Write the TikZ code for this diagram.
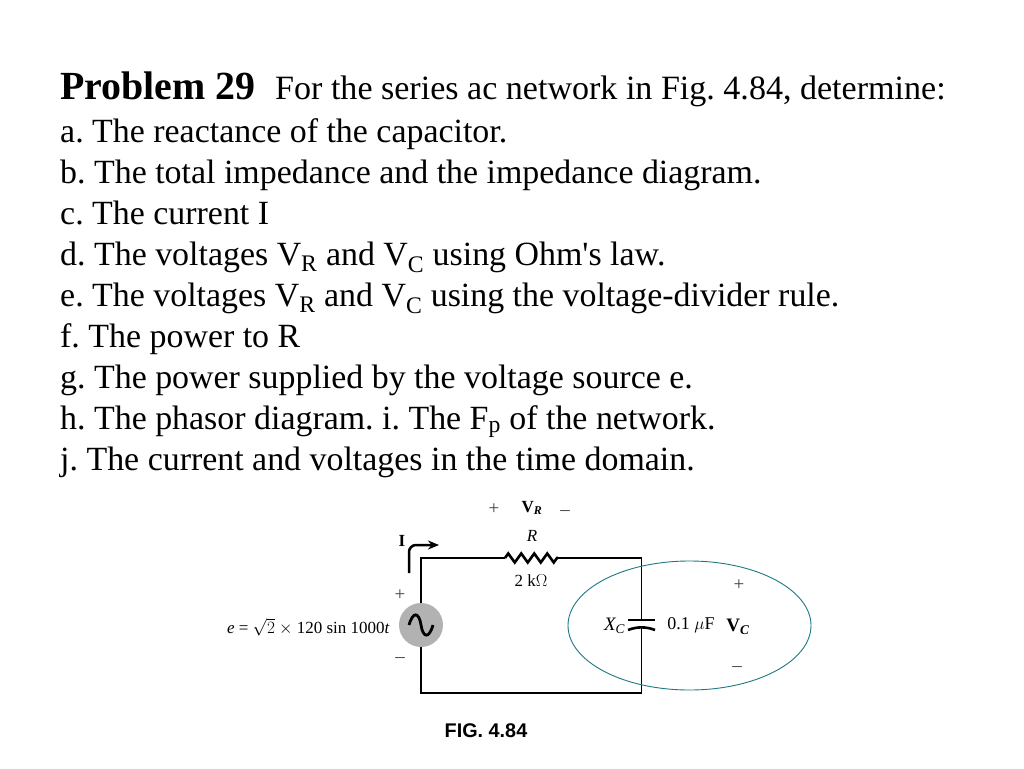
\documentclass[tikz,border=0pt]{standalone}
\usepackage{fontspec}
\setmainfont{Liberation Serif}
\newfontfamily\plainfont{Liberation Serif}
\usetikzlibrary{positioning,arrows.meta,decorations.pathmorphing,shapes.geometric}
\definecolor{ellipseblue}{RGB}{30,120,130}
\tikzset{
  textline/.style={anchor=base west,inner sep=0pt,font=\fontsize{33.9pt}{33.9pt}\selectfont\frenchspacing},
  wire/.style={draw=black,line width=1.5pt},
  smalllabel/.style={inner sep=0pt,font=\fontsize{17pt}{17pt}\selectfont},
  signlabel/.style={inner sep=0pt,text=black!75,font=\fontsize{19pt}{19pt}\selectfont},
}
\begin{document}
\begin{tikzpicture}[x=1pt,y=-1pt]
\useasboundingbox (0,0) rectangle (1024,768);
\node[textline,font=\fontsize{39.9pt}{39.9pt}\selectfont\bfseries] (title) at (60,99.5) {Problem 29};
\node[textline,font=\fontsize{34.05pt}{34.05pt}\selectfont\frenchspacing] (intro) at (275,99.5) {For the series ac network in Fig. 4.84, determine:};
\node[textline] (a) at (60,142) {a. The reactance of the capacitor.};
\node[textline] (b) at (60,183) {b. The total impedance and the impedance diagram.};
\node[textline] (c) at (60,224) {c. The current I};
\node[textline] (d) at (60,265) {d. The voltages V\textsubscript{R} and V\textsubscript{C} using Ohm{\plainfont '}s law.};
\node[textline] (e) at (60,306) {e. The voltages V\textsubscript{R} and V\textsubscript{C} using the voltage-divider rule.};
\node[textline] (f) at (60,347) {f. The power to R};
\node[textline] (g) at (60,388) {g. The power supplied by the voltage source e.};
\node[textline] (h) at (60,429) {h. The phasor diagram. i. The F\textsubscript{p} of the network.};
\node[textline] (j) at (60,470) {j. The current and voltages in the time domain.};
% circuit
\coordinate (tl) at (421,558);
\coordinate (tr) at (641.5,558);
\coordinate (br) at (641.5,693);
\coordinate (bl) at (421,693);
\node[circle,fill=gray!60,minimum size=44pt,inner sep=0pt] (src) at (421,625) {};
\draw[line width=2.8pt] (409,625) .. controls (413,611) and (419,612) .. (421,625) .. controls (423,638) and (429,639) .. (433,625);
\coordinate (capt) at (641.5,620);
\coordinate (capb) at (641.5,628);
\coordinate (rl) at (505,558);
\coordinate (rr) at (558,558);
\draw[wire] (src) -- (tl) -- (rl);
\draw[wire,line width=2.6pt,decorate,decoration={zigzag,segment length=13pt,amplitude=4.5pt}] (rl) -- (rr);
\draw[wire] (rr) -- (tr) -- (capt);
\draw[wire] (capb) -- (br) -- (bl) -- (src);
\draw[line width=2.6pt] (628,620) -- (655,620);
\draw[line width=2.6pt] (628,630) .. controls (637,626.5) and (646,626.5) .. (655,630);
\coordinate (curs) at (409,573);
\coordinate (cure) at (439,545);
\draw[line width=2.5pt,rounded corners=7pt,-{Stealth[length=11pt,width=9pt]}] (curs) |- (cure);
\node[smalllabel,font=\fontsize{17pt}{17pt}\selectfont\bfseries] (ilab) at (402,541) {I};
\node[signlabel] (plusv) at (494,509) {+};
\node[smalllabel,font=\fontsize{17pt}{17pt}\selectfont\bfseries] (vr) at (532,508) {V\textsubscript{\textit{R}}};
\node[signlabel] (minusv) at (565,513) {--};
\node[smalllabel,font=\fontsize{17pt}{17pt}\selectfont\itshape] (rlab) at (532,536) {R};
\node[smalllabel] (rval) at (531,581) {2 k$\Omega$};
\node[signlabel] (plussrc) at (400,595) {+};
\node[signlabel] (minussrc) at (400,660) {--};
\node[smalllabel,anchor=east] (elab) at (390,627) {\textit{e} = $\sqrt{2}$ $\times$ 120 sin 1000\textit{t}};
\node[smalllabel,font=\fontsize{19pt}{19pt}\selectfont] (xc) at (614.5,626) {\textit{X\textsubscript{C}}};
\node[smalllabel,font=\fontsize{18pt}{18pt}\selectfont] (cval) at (691,625) {0.1 $\mu$F};
\node[smalllabel,font=\fontsize{19pt}{19pt}\selectfont\bfseries] (vc) at (738,627) {V\textsubscript{\textit{C}}};
\node[signlabel] (plusc) at (739,585) {+};
\node[signlabel] (minusc) at (737,669) {--};
\node[inner sep=0pt,font=\fontsize{19.8pt}{19.8pt}\selectfont\fontspec{Liberation Sans}\bfseries] (figlab) at (486,731) {FIG. 4.84};
\node[draw=ellipseblue,line width=0.9pt,ellipse,minimum width=243pt,minimum height=129pt,inner sep=0pt] (mark) at (689.5,625.5) {};
\end{tikzpicture}
\end{document}
